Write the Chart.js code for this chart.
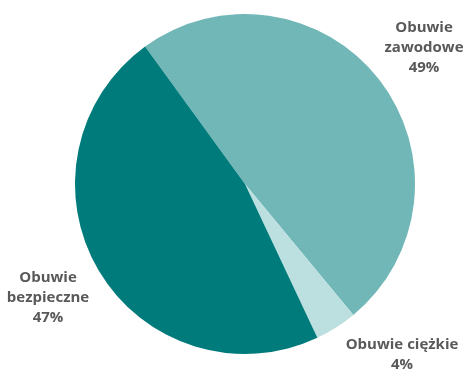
<!DOCTYPE html>
<html>
<head>
<meta charset="utf-8">
<script src="https://cdn.jsdelivr.net/npm/chart.js@4/dist/chart.umd.min.js"></script>
<style>
  html, body { margin: 0; padding: 0; background: #fff; }
  #wrap { width: 465px; height: 369px; position: relative; }
</style>
</head>
<body>
<div id="wrap"><canvas id="pieChart"></canvas></div>
<script>
// Dane wykresu
const categories = ['Obuwie zawodowe', 'Obuwie ciężkie', 'Obuwie bezpieczne'];
const shares = [49, 4, 47];
const labelLines = [
    ['Obuwie', 'zawodowe', '49%'],
    ['Obuwie ciężkie', '4%'],
    ['Obuwie', 'bezpieczne', '47%']
];
const colors = ['#72b7b8', '#bcdfe0', '#007b7c'];

// Pozycje etykiet względem środka koła
const labelOffsets = [[179, -156], [157, 161], [-197, 94]];

const outsideLabels = {
    id: 'outsideLabels',
    afterDraw(chart) {
        const ctx = chart.ctx;
        const arc = chart.getDatasetMeta(0).data[0];
        ctx.save();
        ctx.font = 'bold 15px "Open Sans"';
        ctx.fillStyle = '#595959';
        ctx.textAlign = 'center';
        ctx.textBaseline = 'middle';
        labelLines.forEach((lines, i) => {
            const x = arc.x + labelOffsets[i][0];
            const y = arc.y + labelOffsets[i][1];
            lines.forEach((t, j) => ctx.fillText(t, x, y + j * 20));
        });
        ctx.restore();
    }
};

const ctx = document.getElementById('pieChart').getContext('2d');
new Chart(ctx, {
    type: 'pie',
    data: {
        labels: categories,
        datasets: [{
            data: shares,
            backgroundColor: colors,
            borderWidth: 0
        }]
    },
    options: {
        responsive: true,
        maintainAspectRatio: false,
        animation: false,
        rotation: -36,
        layout: { padding: { top: 14, bottom: 15, left: 50, right: 25 } },
        plugins: {
            legend: { display: false },
            tooltip: { enabled: false }
        }
    },
    plugins: [outsideLabels]
});
</script>
</body>
</html>
